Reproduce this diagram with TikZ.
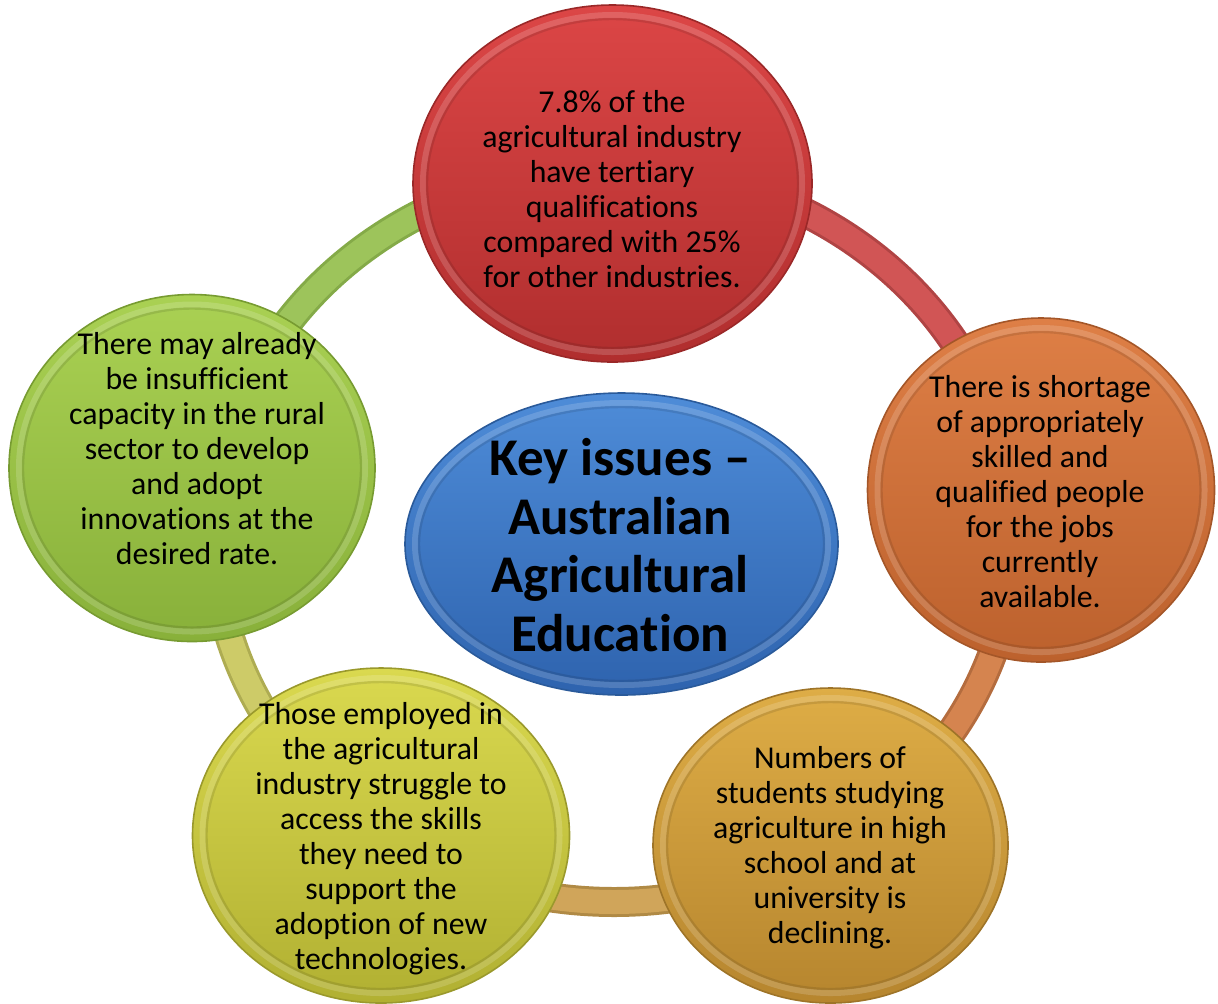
\documentclass[tikz,border=0pt]{standalone}
\usepackage{fontspec}
\setmainfont{Carlito}[Ligatures={NoCommon}]
\usetikzlibrary{shapes.geometric,calc}
\definecolor{rTop}{HTML}{DC4646}\definecolor{rBot}{HTML}{B02E2E}\definecolor{rEdge}{HTML}{9A2828}
\definecolor{oTop}{HTML}{DE7F46}\definecolor{oBot}{HTML}{BC612D}\definecolor{oEdge}{HTML}{A45628}
\definecolor{gTop}{HTML}{DEAD46}\definecolor{gBot}{HTML}{B6852E}\definecolor{gEdge}{HTML}{9E7428}
\definecolor{yTop}{HTML}{DAD94F}\definecolor{yBot}{HTML}{B1B032}\definecolor{yEdge}{HTML}{9A992C}
\definecolor{lTop}{HTML}{AAD153}\definecolor{lBot}{HTML}{88B03A}\definecolor{lEdge}{HTML}{779B31}
\definecolor{bTop}{HTML}{4E8CD8}\definecolor{bBot}{HTML}{2E63AE}\definecolor{bEdge}{HTML}{2A5A9A}
\definecolor{rRing}{HTML}{D15555}\definecolor{rRingE}{HTML}{B04444}
\definecolor{oRing}{HTML}{D5844F}\definecolor{oRingE}{HTML}{B46C3E}
\definecolor{gRing}{HTML}{D0A55A}\definecolor{gRingE}{HTML}{B08A45}
\definecolor{yRing}{HTML}{CDCB68}\definecolor{yRingE}{HTML}{AEAC52}
\definecolor{lRing}{HTML}{9DC45B}\definecolor{lRingE}{HTML}{84AA48}
\begin{document}
\begin{tikzpicture}[x=0.5pt,y=-0.5pt,
  bubble/.style={ellipse, inner sep=0pt, outer sep=0pt, line width=0.8pt,
    path picture={\draw[white, opacity=.16, line width=3pt]
      let \p1=(path picture bounding box.north east), \p2=(path picture bounding box.center)
      in (\p2) ellipse [x radius={\x1-\x2-5pt}, y radius={\y1-\y2-5pt}];
      \draw[black, opacity=.10, line width=1.2pt]
      let \p1=(path picture bounding box.north east), \p2=(path picture bounding box.center)
      in (\p2) ellipse [x radius={\x1-\x2-7pt}, y radius={\y1-\y2-7pt}];}},
  txt/.style={align=center, inner sep=0pt, font=\fontsize{15.9pt}{17.5pt}\selectfont},
  ttl/.style={align=center, inner sep=0pt, font=\fontsize{26.5pt}{29.3pt}\selectfont\bfseries},
  ringout/.style={line width=15pt},
  ringin/.style={line width=12pt}]
\useasboundingbox (0,0) rectangle (1218,1003);
\coordinate (ringc) at (614,535);
% ring segments
\foreach \a/\b/\ce/\ci in {169/90/lRingE/lRing, 90/8/rRingE/rRing, 8/-57.6/oRingE/oRing, -57.6/-126/gRingE/gRing, -126/-191/yRingE/yRing}{
  \draw[ringout, draw=\ce] (ringc) ++(\a:200pt and 183.5pt) arc[start angle=\a, end angle=\b, x radius=200pt, y radius=183.5pt];
  \draw[ringin, draw=\ci] (ringc) ++(\a:200pt and 183.5pt) arc[start angle=\a, end angle=\b, x radius=200pt, y radius=183.5pt];
}
% circles
\node[bubble, minimum width=199.5pt, minimum height=178.5pt, top color=rTop, bottom color=rBot, draw=rEdge] (c1) at (612.5,183.5) {};
\node[bubble, minimum width=173.5pt, minimum height=172pt, top color=oTop, bottom color=oBot, draw=oEdge] (c2) at (1041,490) {};
\node[bubble, minimum width=177.5pt, minimum height=157.5pt, top color=gTop, bottom color=gBot, draw=gEdge] (c3) at (830.5,845.5) {};
\node[bubble, minimum width=188.5pt, minimum height=167.5pt, top color=yTop, bottom color=yBot, draw=yEdge] (c4) at (381,835.5) {};
\node[bubble, minimum width=183pt, minimum height=173.5pt, top color=lTop, bottom color=lBot, draw=lEdge] (c5) at (192,468) {};
\node[bubble, minimum width=216.5pt, minimum height=151pt, top color=bTop, bottom color=bBot, draw=bEdge] (hub) at (621.5,544) {};
% texts
\node[txt] (t1) at (612,189) {7.8\% of the\\agricultural industry\\have tertiary\\qualifications\\compared with 25\%\\for other industries.};
\node[txt] (t2) at (1040,492) {There is shortage\\of appropriately\\skilled and\\qualified people\\for the jobs\\currently\\available.};
\node[txt] (t3) at (830,848) {Numbers of\\students studying\\agriculture in high\\school and at\\university is\\declining.};
\node[txt] (t4) at (381,839) {Those employed in\\the agricultural\\industry struggle to\\access the skills\\they need to\\support the\\adoption of new\\technologies.};
\node[txt] (t5) at (197,449) {There may already\\be insufficient\\capacity in the rural\\sector to develop\\and adopt\\innovations at the\\desired rate.};
\node[ttl] (title) at (620,545) {Key issues –\\Australian\\Agricultural\\Education};
\end{tikzpicture}
\end{document}
